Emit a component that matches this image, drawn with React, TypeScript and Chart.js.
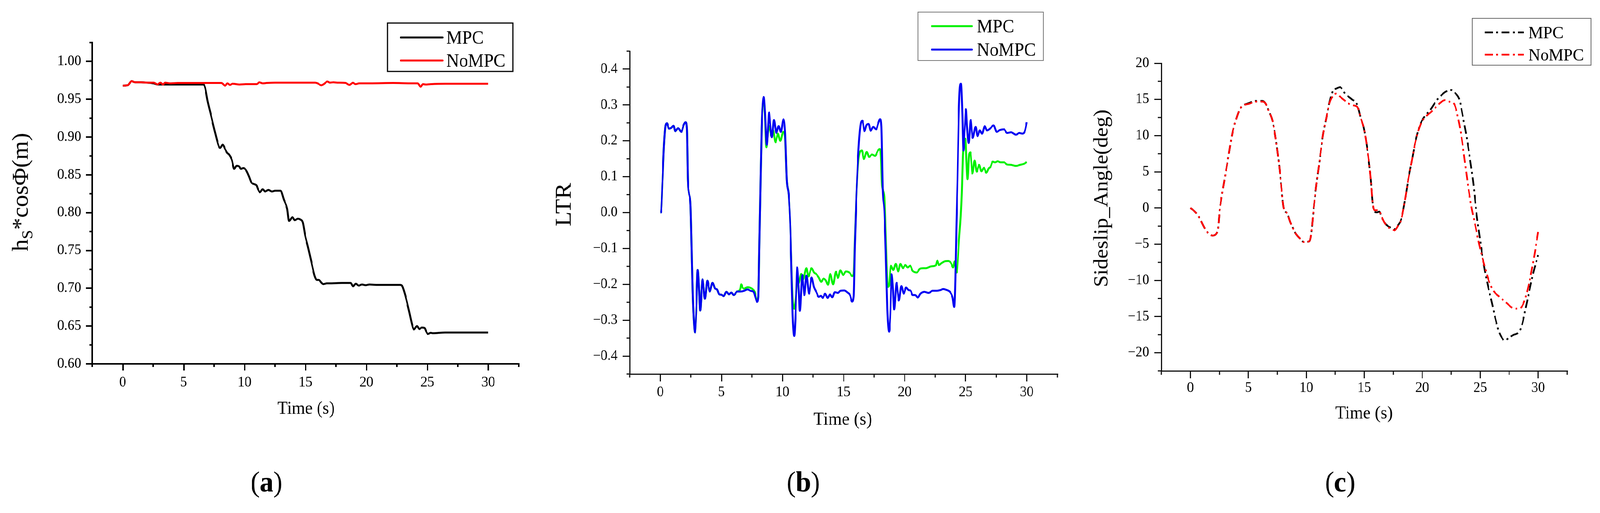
import React, { useEffect, useRef, useState } from 'react';
import { Chart, registerables } from 'chart.js';

Chart.register(...registerables);

const FONT = "'Liberation Serif', 'Times New Roman', Times, serif";

type Pair = [number, number];

// ---------------- shared x axis ----------------
const X_TICKS = [0, 5, 10, 15, 20, 25, 30];
const X_MINOR = [-2.5, 2.5, 7.5, 12.5, 17.5, 22.5, 27.5, 32.5];

// ---------------- panel (a) ----------------
const A_Y_TICKS = [0.6, 0.65, 0.7, 0.75, 0.8, 0.85, 0.9, 0.95, 1.0];
const A_Y_MINOR = [0.625, 0.675, 0.725, 0.775, 0.825, 0.875, 0.925, 0.975, 1.025];

const A_MPC: Pair[] = [
  [0, 0.968], [0.4, 0.9685], [0.73, 0.974], [1.0, 0.9725], [1.5, 0.9725], [2.0, 0.972], [2.55, 0.971],
  [2.85, 0.9695], [3.2, 0.9695], [4.5, 0.9695], [6.6, 0.9695], [6.75, 0.966], [6.97, 0.9474], [7.27, 0.927],
  [7.58, 0.906], [7.88, 0.888], [8.0, 0.8856], [8.2, 0.89], [8.4, 0.884], [8.58, 0.879], [8.72, 0.877],
  [8.95, 0.87], [9.15, 0.858], [9.34, 0.862], [9.57, 0.861], [9.7, 0.858], [9.9, 0.859], [10.13, 0.856],
  [10.36, 0.848], [10.55, 0.84], [10.75, 0.838], [10.98, 0.836], [11.1, 0.831], [11.26, 0.827], [11.48, 0.831],
  [11.68, 0.828], [11.96, 0.83], [12.24, 0.828], [12.52, 0.829], [12.95, 0.829], [13.23, 0.817], [13.5, 0.805],
  [13.65, 0.789], [13.93, 0.794], [14.13, 0.79], [14.36, 0.792], [14.58, 0.791], [14.78, 0.787], [14.97, 0.77],
  [15.2, 0.755], [15.48, 0.735], [15.76, 0.716], [15.93, 0.711], [16.1, 0.711], [16.33, 0.707], [16.47, 0.7055],
  [16.75, 0.7065], [17.03, 0.7065], [18.0, 0.707], [18.7, 0.707], [18.9, 0.7025], [19.14, 0.706], [19.36, 0.7035],
  [19.64, 0.705], [19.93, 0.704], [20.26, 0.705], [20.8, 0.7045], [22.8, 0.7045], [22.94, 0.703], [23.2, 0.69],
  [23.5, 0.67], [23.78, 0.65], [23.9, 0.6455], [24.15, 0.65], [24.35, 0.646], [24.54, 0.648], [24.77, 0.6475],
  [24.9, 0.643], [25.05, 0.6395], [25.27, 0.641], [25.47, 0.6405], [26.45, 0.6415], [30, 0.6415],
];

const A_NOMPC: Pair[] = [
  [0, 0.968], [0.4, 0.9685], [0.73, 0.974], [1.0, 0.9725], [1.5, 0.9725], [2.0, 0.972], [2.55, 0.972],
  [2.85, 0.9695], [3.1, 0.972], [3.3, 0.9695], [3.45, 0.972], [3.95, 0.971], [4.5, 0.9715], [6.7, 0.9715],
  [8.1, 0.9715], [8.4, 0.968], [8.6, 0.971], [8.8, 0.969], [9.0, 0.9705], [9.6, 0.9695], [10.1, 0.97],
  [11.0, 0.97], [11.2, 0.9725], [11.5, 0.971], [11.8, 0.9715], [12.5, 0.972], [13.8, 0.972], [15.8, 0.972],
  [16.0, 0.971], [16.3, 0.9685], [16.5, 0.97], [16.8, 0.9735], [17.0, 0.972], [17.3, 0.9725], [17.6, 0.972],
  [18.3, 0.9715], [18.6, 0.969], [18.9, 0.972], [19.1, 0.97], [19.4, 0.971], [20.3, 0.971], [22.2, 0.9715],
  [23.6, 0.971], [24.2, 0.971], [24.45, 0.9665], [24.65, 0.97], [24.85, 0.9695], [25.3, 0.97], [26.5, 0.9705],
  [30, 0.9705],
];

// ---------------- panel (b) ----------------
const B_Y_TICKS = [-0.4, -0.3, -0.2, -0.1, 0, 0.1, 0.2, 0.3, 0.4];
const B_Y_MINOR = [-0.45, -0.35, -0.25, -0.15, -0.05, 0.05, 0.15, 0.25, 0.35, 0.45];

const B_NOMPC: Pair[] = [
  [0, 0], [0.06, 0.002], [0.17, 0.083], [0.3, 0.187], [0.43, 0.243], [0.54, 0.249], [0.7, 0.234], [0.89, 0.236],
  [1.07, 0.242], [1.22, 0.227], [1.46, 0.235], [1.72, 0.225], [1.9, 0.243], [2.06, 0.252], [2.17, 0.234],
  [2.25, 0.092], [2.34, 0.055], [2.47, 0.022], [2.56, -0.096], [2.64, -0.214], [2.73, -0.294], [2.84, -0.334],
  [2.93, -0.285], [3.06, -0.16], [3.17, -0.214], [3.26, -0.273], [3.45, -0.186], [3.65, -0.24], [3.85, -0.19],
  [4.04, -0.22], [4.27, -0.196], [4.48, -0.212], [4.64, -0.214], [4.83, -0.228], [5.0, -0.229], [5.19, -0.233],
  [5.4, -0.221], [5.62, -0.228], [5.82, -0.223], [6.01, -0.23], [6.28, -0.22], [6.54, -0.22], [6.87, -0.218],
  [7.13, -0.214], [7.39, -0.218], [7.63, -0.221], [7.79, -0.237], [7.92, -0.249], [8.02, -0.237], [8.1, -0.096],
  [8.18, 0.045], [8.29, 0.234], [8.38, 0.305], [8.47, 0.322], [8.57, 0.281], [8.71, 0.189], [8.81, 0.234],
  [8.9, 0.279], [9.03, 0.234], [9.13, 0.21], [9.3, 0.258], [9.49, 0.222], [9.69, 0.241], [9.86, 0.225],
  [10.08, 0.26], [10.22, 0.22], [10.35, 0.092], [10.52, 0.045], [10.65, -0.049], [10.74, -0.167], [10.83, -0.285],
  [10.96, -0.344], [11.07, -0.285], [11.2, -0.153], [11.33, -0.214], [11.42, -0.274], [11.62, -0.174],
  [11.79, -0.23], [11.96, -0.176], [12.18, -0.226], [12.38, -0.181], [12.57, -0.207], [12.78, -0.222],
  [12.97, -0.235], [13.14, -0.232], [13.3, -0.238], [13.49, -0.226], [13.69, -0.238], [13.89, -0.228],
  [14.08, -0.236], [14.28, -0.222], [14.54, -0.224], [14.74, -0.218], [15.07, -0.217], [15.33, -0.223],
  [15.53, -0.23], [15.7, -0.248], [15.83, -0.232], [15.92, -0.096], [16.05, 0.045], [16.25, 0.19], [16.45, 0.253],
  [16.55, 0.256], [16.71, 0.227], [16.87, 0.243], [17.04, 0.247], [17.22, 0.228], [17.43, 0.239], [17.67, 0.232],
  [17.83, 0.248], [17.99, 0.26], [18.09, 0.24], [18.2, 0.066], [18.34, 0.004], [18.45, -0.105], [18.58, -0.268],
  [18.73, -0.332], [18.83, -0.285], [18.93, -0.172], [19.05, -0.214], [19.14, -0.27], [19.34, -0.196],
  [19.53, -0.245], [19.73, -0.205], [19.93, -0.226], [20.12, -0.209], [20.32, -0.216], [20.5, -0.218],
  [20.65, -0.23], [20.85, -0.23], [21.08, -0.237], [21.3, -0.226], [21.63, -0.221], [21.96, -0.224],
  [22.29, -0.218], [22.62, -0.218], [22.95, -0.216], [23.14, -0.213], [23.47, -0.216], [23.73, -0.222],
  [23.93, -0.237], [24.06, -0.263], [24.15, -0.19], [24.23, -0.049], [24.33, 0.092], [24.42, 0.257],
  [24.52, 0.347], [24.61, 0.359], [24.72, 0.281], [24.81, 0.173], [24.92, 0.234], [25.02, 0.288], [25.11, 0.239],
  [25.24, 0.194], [25.41, 0.258], [25.57, 0.208], [25.81, 0.239], [25.97, 0.213], [26.16, 0.229], [26.33, 0.22],
  [26.56, 0.241], [26.75, 0.229], [27.02, 0.235], [27.28, 0.243], [27.54, 0.225], [27.8, 0.23], [28.13, 0.232],
  [28.39, 0.222], [28.72, 0.224], [29.12, 0.217], [29.38, 0.222], [29.64, 0.22], [29.84, 0.227], [30, 0.252],
];

const B_MPC: Pair[] = [
  [0, 0], [0.06, 0.002], [0.17, 0.083], [0.3, 0.187], [0.43, 0.243], [0.54, 0.249], [0.7, 0.234], [0.89, 0.236],
  [1.07, 0.242], [1.22, 0.227], [1.46, 0.235], [1.72, 0.225], [1.9, 0.243], [2.06, 0.252], [2.17, 0.234],
  [2.25, 0.092], [2.34, 0.055], [2.47, 0.022], [2.56, -0.096], [2.64, -0.214], [2.73, -0.294], [2.84, -0.334],
  [2.93, -0.285], [3.06, -0.16], [3.17, -0.214], [3.26, -0.273], [3.45, -0.186], [3.65, -0.24], [3.85, -0.19],
  [4.04, -0.22], [4.27, -0.196], [4.48, -0.212], [4.64, -0.214], [4.83, -0.228], [5.0, -0.229], [5.19, -0.233],
  [5.4, -0.221], [5.62, -0.228], [5.82, -0.223], [6.01, -0.23], [6.28, -0.22], [6.45, -0.218], [6.55, -0.212],
  [6.62, -0.2], [6.75, -0.21], [6.87, -0.212], [7.13, -0.208], [7.5, -0.212], [7.72, -0.221], [7.89, -0.242],
  [8.02, -0.235], [8.1, -0.096], [8.18, 0.045], [8.29, 0.23], [8.38, 0.3], [8.47, 0.315], [8.57, 0.27],
  [8.68, 0.182], [8.78, 0.215], [8.9, 0.241], [9.1, 0.213], [9.22, 0.23], [9.43, 0.196], [9.62, 0.22],
  [9.82, 0.2], [10.05, 0.225], [10.2, 0.215], [10.35, 0.092], [10.52, 0.045], [10.65, -0.049], [10.74, -0.16],
  [10.83, -0.24], [10.96, -0.268], [11.08, -0.24], [11.2, -0.2], [11.33, -0.197], [11.53, -0.171], [11.7, -0.186],
  [11.96, -0.155], [12.12, -0.178], [12.38, -0.155], [12.58, -0.167], [12.78, -0.172], [12.97, -0.181],
  [13.17, -0.193], [13.36, -0.184], [13.56, -0.19], [13.72, -0.201], [13.91, -0.171], [14.15, -0.2],
  [14.37, -0.165], [14.54, -0.182], [14.74, -0.161], [14.97, -0.174], [15.2, -0.164], [15.5, -0.168],
  [15.71, -0.177], [15.83, -0.17], [15.92, -0.08], [16.05, 0.045], [16.2, 0.14], [16.36, 0.17], [16.5, 0.173],
  [16.66, 0.149], [16.9, 0.169], [17.09, 0.155], [17.33, 0.162], [17.58, 0.158], [17.8, 0.172], [17.96, 0.177],
  [18.05, 0.16], [18.15, 0.074], [18.35, 0.045], [18.45, -0.06], [18.55, -0.17], [18.63, -0.207], [18.72, -0.204],
  [18.88, -0.148], [19.07, -0.16], [19.27, -0.143], [19.47, -0.164], [19.66, -0.143], [19.86, -0.155],
  [20.06, -0.146], [20.25, -0.153], [20.45, -0.148], [20.65, -0.162], [21.0, -0.167], [21.24, -0.157],
  [21.5, -0.155], [21.76, -0.155], [22.16, -0.15], [22.55, -0.147], [22.68, -0.134], [22.81, -0.146],
  [23.01, -0.141], [23.27, -0.136], [23.58, -0.135], [23.8, -0.141], [23.97, -0.153], [24.1, -0.136],
  [24.26, -0.167], [24.46, -0.072], [24.59, -0.011], [24.68, 0.055], [24.78, 0.168], [24.92, 0.196],
  [24.98, 0.206], [25.07, 0.14], [25.15, 0.093], [25.28, 0.163], [25.38, 0.168], [25.55, 0.109], [25.73, 0.145],
  [25.9, 0.114], [26.1, 0.133], [26.29, 0.115], [26.49, 0.125], [26.69, 0.111], [26.88, 0.123], [27.04, 0.128],
  [27.21, 0.142], [27.41, 0.14], [27.61, 0.143], [27.87, 0.14], [28.13, 0.14], [28.39, 0.134], [28.72, 0.133],
  [29.12, 0.13], [29.45, 0.133], [29.77, 0.136], [30, 0.141],
];

// ---------------- panel (c) ----------------
const C_Y_TICKS = [-20, -15, -10, -5, 0, 5, 10, 15, 20];
const C_Y_MINOR = [-22.5, -17.5, -12.5, -7.5, -2.5, 2.5, 7.5, 12.5, 17.5];

const C_NOMPC: Pair[] = [
  [0, 0], [0.45, -0.6], [0.83, -1.5], [1.27, -2.9], [1.71, -3.7], [1.9, -3.8], [2.35, -3.2], [2.52, -0.4],
  [2.79, 2.5], [2.95, 4.0], [3.11, 5.5], [3.32, 7.5], [3.48, 9.1], [3.64, 10.5], [3.9, 12.0], [4.22, 13.5],
  [4.49, 14.1], [5.07, 14.4], [5.6, 14.7], [6.24, 14.7], [6.45, 14.5], [6.77, 13.4], [7.09, 12.0], [7.3, 10.2],
  [7.51, 7.8], [7.73, 4.8], [7.89, 2.1], [8.05, 0], [8.37, -0.8], [8.63, -2], [9.08, -3.5], [9.5, -4.3],
  [9.8, -4.7], [10.26, -4.6], [10.4, -3.8], [10.64, 0], [10.85, 3], [11.14, 6.5], [11.43, 10], [11.73, 12.5],
  [12.0, 14.5], [12.3, 15.5], [12.6, 15.8], [12.9, 15.4], [13.35, 14.8], [13.94, 14.2], [14.38, 14],
  [14.68, 12.5], [14.97, 11], [15.27, 8], [15.56, 4], [15.7, 1], [15.86, -0.3], [16.24, -0.3], [16.45, -1],
  [16.74, -2], [17.03, -2.6], [17.48, -3.0], [17.62, -3.1], [17.9, -2.5], [18.2, -1.5], [18.5, 1], [18.8, 4],
  [19.1, 6.5], [19.39, 9], [19.84, 11.5], [20.28, 12.6], [20.72, 13.2], [21.16, 13.9], [21.6, 14.6],
  [21.96, 14.9], [22.34, 14.7], [22.78, 14.3], [23.08, 12.5], [23.37, 10], [23.67, 6.5], [23.96, 3], [24.26, 0],
  [24.55, -2.2], [24.84, -4.5], [25.13, -6.5], [25.43, -8.3], [25.73, -10], [26.17, -11.5], [26.61, -12.2],
  [27.2, -13], [27.79, -13.8], [28.24, -13.9], [28.6, -13.6], [28.9, -12.4], [29.27, -10], [29.62, -7],
  [30, -3.3],
];

const C_MPC: Pair[] = [
  [0, 0], [0.45, -0.6], [0.83, -1.5], [1.27, -2.9], [1.71, -3.7], [1.9, -3.8], [2.35, -3.2], [2.52, -0.4],
  [2.79, 2.5], [2.95, 4.0], [3.11, 5.5], [3.32, 7.5], [3.48, 9.1], [3.64, 10.5], [3.9, 12.0], [4.22, 13.5],
  [4.49, 14.1], [5.07, 14.5], [5.6, 14.8], [6.24, 14.8], [6.45, 14.5], [6.77, 13.4], [7.09, 12.0], [7.3, 10.2],
  [7.51, 7.8], [7.73, 4.8], [7.89, 2.1], [8.05, 0], [8.37, -0.8], [8.63, -2], [9.08, -3.5], [9.5, -4.3],
  [9.8, -4.7], [10.26, -4.6], [10.4, -3.8], [10.64, 0], [10.85, 3], [11.14, 6.5], [11.43, 10], [11.73, 12.5],
  [12.0, 14.6], [12.3, 16.2], [12.6, 16.5], [12.9, 16.7], [13.35, 15.8], [13.94, 15.0], [14.38, 14.3],
  [14.68, 12.5], [14.97, 11], [15.27, 8], [15.56, 4], [15.7, 1], [15.86, -0.5], [16.1, -0.6], [16.3, -0.5],
  [16.45, -1.1], [16.74, -2], [17.03, -2.5], [17.48, -2.8], [17.62, -2.9], [17.9, -2.4], [18.2, -1.5],
  [18.5, 1], [18.8, 4], [19.1, 6.5], [19.39, 9], [19.84, 11.6], [20.28, 12.8], [20.72, 13.6], [21.16, 14.7],
  [21.6, 15.5], [22.05, 16.1], [22.5, 16.3], [22.84, 15.9], [23.22, 14.9], [23.52, 12.5], [23.81, 10],
  [24.1, 7], [24.4, 3.5], [24.7, -1], [25.0, -4.5], [25.15, -6.2], [25.4, -8.6], [25.7, -11], [26.0, -13],
  [26.3, -15.2], [26.6, -17], [26.9, -18], [27.1, -18.3], [27.5, -17.9], [27.9, -17.5], [28.3, -17.2],
  [28.6, -16.2], [28.9, -14], [29.3, -11], [29.6, -8.8], [30, -6.5],
];

// ---------------- rendering ----------------
const PAGE_W = 4334;
const PAGE_H = 1314;
const X_AXIS_H = 100;

interface TextPart { text: string; size: number; bold?: boolean; dy?: number }
interface TextItem { parts: TextPart[]; x: number; y: number; rotate?: boolean; baseline?: CanvasTextBaseline }
interface LegendRow { label: string; color: string; y: number }
interface LegendDef {
  x: number; y: number; w: number; h: number; border: string; borderW: number;
  lineX1: number; lineX2: number; textX: number; size: number; lineW: number; dash?: number[];
  rows: LegendRow[];
}
interface SeriesDef { label: string; data: Pair[]; color: string; width: number; dash?: number[]; order: number }
interface PanelDef {
  key: string; left: number; width: number;
  area: { l: number; t: number; r: number; b: number };
  yMin: number; yMax: number; yTicks: number[]; yMinor: number[]; yFmt: (v: number) => string;
  axisW: number; axisColor: string; tickLen: number; minorLen: number; tickSize: number;
  xPad: number; yPad: number;
  series: SeriesDef[]; texts: TextItem[]; legend: LegendDef;
}

const minus = (s: string) => s.replace('-', '\u2212');

function drawText(ctx: CanvasRenderingContext2D, t: TextItem) {
  ctx.save();
  ctx.translate(t.x, t.y);
  if (t.rotate) ctx.rotate(-Math.PI / 2);
  ctx.textAlign = 'left';
  ctx.textBaseline = t.baseline || 'middle';
  ctx.fillStyle = '#000';
  const fonts = t.parts.map((p) => `${p.bold ? 'bold ' : ''}${p.size}px ${FONT}`);
  const widths = t.parts.map((p, i) => {
    ctx.font = fonts[i];
    return ctx.measureText(p.text).width;
  });
  const total = widths.reduce((a, b) => a + b, 0);
  let x = -total / 2;
  t.parts.forEach((p, i) => {
    ctx.font = fonts[i];
    ctx.fillText(p.text, x, p.dy || 0);
    x += widths[i];
  });
  ctx.restore();
}

function decoPlugin(p: PanelDef) {
  return {
    id: 'deco_' + p.key,
    afterDraw(chart: any) {
      const ctx: CanvasRenderingContext2D = chart.ctx;
      const xs = chart.scales.x;
      const ys = chart.scales.y;
      const area = chart.chartArea;
      ctx.save();
      ctx.strokeStyle = p.axisColor;
      ctx.lineWidth = p.axisW;
      ctx.lineCap = 'butt';
      ctx.beginPath();
      p.yMinor.forEach((v) => {
        const y = ys.getPixelForValue(v);
        ctx.moveTo(area.left - p.minorLen, y);
        ctx.lineTo(area.left, y);
      });
      X_MINOR.forEach((v) => {
        const x = xs.getPixelForValue(v);
        ctx.moveTo(x, area.bottom);
        ctx.lineTo(x, area.bottom + p.minorLen);
      });
      ctx.stroke();
      p.texts.forEach((t) => drawText(ctx, t));
      const L = p.legend;
      ctx.fillStyle = '#fff';
      ctx.fillRect(L.x, L.y, L.w, L.h);
      ctx.strokeStyle = L.border;
      ctx.lineWidth = L.borderW;
      ctx.setLineDash([]);
      ctx.strokeRect(L.x, L.y, L.w, L.h);
      L.rows.forEach((r) => {
        ctx.save();
        ctx.strokeStyle = r.color;
        ctx.lineWidth = L.lineW;
        ctx.lineCap = L.dash ? 'butt' : 'round';
        ctx.setLineDash(L.dash || []);
        ctx.beginPath();
        ctx.moveTo(L.lineX1, r.y);
        ctx.lineTo(L.lineX2, r.y);
        ctx.stroke();
        ctx.restore();
        ctx.fillStyle = '#000';
        ctx.font = `${L.size}px ${FONT}`;
        ctx.textAlign = 'left';
        ctx.textBaseline = 'alphabetic';
        ctx.fillText(r.label, L.textX, r.y + L.size * 0.33);
      });
      ctx.restore();
    },
  };
}

function zeroPad(sc: any) {
  sc.paddingLeft = 0;
  sc.paddingRight = 0;
  sc.paddingTop = 0;
  sc.paddingBottom = 0;
}

function makeConfig(p: PanelDef): any {
  const a = p.area;
  const gridOpts = {
    display: true,
    drawOnChartArea: false,
    drawTicks: true,
    tickLength: p.tickLen,
    tickWidth: p.axisW,
    tickColor: p.axisColor,
    lineWidth: p.axisW,
    color: p.axisColor,
  };
  return {
    type: 'line',
    data: {
      datasets: p.series.map((s) => ({
        label: s.label,
        data: s.data.map(([x, y]) => ({ x, y })),
        borderColor: s.color,
        backgroundColor: s.color,
        borderWidth: s.width,
        borderDash: s.dash || [],
        borderCapStyle: 'butt',
        borderJoinStyle: 'round',
        pointRadius: 0,
        pointHoverRadius: 0,
        fill: false,
        cubicInterpolationMode: 'monotone',
        order: s.order,
      })),
    },
    options: {
      responsive: false,
      animation: false,
      devicePixelRatio: 1,
      events: [],
      layout: {
        padding: { left: 0, top: a.t, right: p.width - a.r, bottom: PAGE_H - a.b - X_AXIS_H },
      },
      plugins: { legend: { display: false }, tooltip: { enabled: false }, title: { display: false } },
      scales: {
        x: {
          type: 'linear',
          position: 'bottom',
          min: -2.5,
          max: 32.5,
          afterBuildTicks: (sc: any) => {
            sc.ticks = X_TICKS.map((v) => ({ value: v }));
          },
          afterFit: (sc: any) => {
            sc.height = X_AXIS_H;
            zeroPad(sc);
          },
          grid: gridOpts,
          border: { display: true, width: p.axisW, color: p.axisColor },
          ticks: {
            font: { family: FONT, size: p.tickSize },
            color: '#000',
            padding: p.xPad,
            maxRotation: 0,
            autoSkip: false,
            callback: (v: number) => String(v),
          },
        },
        y: {
          type: 'linear',
          position: 'left',
          min: p.yMin,
          max: p.yMax,
          afterBuildTicks: (sc: any) => {
            sc.ticks = p.yTicks.map((v) => ({ value: v }));
          },
          afterFit: (sc: any) => {
            sc.width = a.l;
            zeroPad(sc);
          },
          grid: gridOpts,
          border: { display: true, width: p.axisW, color: p.axisColor },
          ticks: {
            font: { family: FONT, size: p.tickSize },
            color: '#000',
            padding: p.yPad,
            autoSkip: false,
            callback: (v: number) => p.yFmt(v),
          },
        },
      },
    },
    plugins: [decoPlugin(p)],
  };
}

const PANEL_A: PanelDef = {
  key: 'a', left: 0, width: 1445,
  area: { l: 250, t: 109, r: 1405, b: 932 },
  yMin: 0.6, yMax: 1.025, yTicks: A_Y_TICKS, yMinor: A_Y_MINOR,
  yFmt: (v) => v.toFixed(2),
  axisW: 4, axisColor: '#000', tickLen: 17, minorLen: 8, tickSize: 37, xPad: 9, yPad: 13,
  series: [
    { label: 'MPC', data: A_MPC, color: '#000000', width: 5, order: 1 },
    { label: 'NoMPC', data: A_NOMPC, color: '#ff0000', width: 5, order: 0 },
  ],
  texts: [
    {
      parts: [{ text: 'h', size: 62 }, { text: 'S', size: 43, dy: 13 }, { text: '*cos\u03A6(m)', size: 62 }],
      x: 75, y: 492, rotate: true, baseline: 'alphabetic',
    },
    { parts: [{ text: 'Time (s)', size: 46 }], x: 829, y: 1048 },
    { parts: [{ text: '(', size: 74 }, { text: 'a', size: 74, bold: true }, { text: ')', size: 74 }], x: 722, y: 1240 },
  ],
  legend: {
    x: 1050, y: 59, w: 339, h: 124, border: '#000', borderW: 3,
    lineX1: 1086, lineX2: 1199, textX: 1209, size: 48, lineW: 5,
    rows: [
      { label: 'MPC', color: '#000000', y: 96 },
      { label: 'NoMPC', color: '#ff0000', y: 155 },
    ],
  },
};

const PANEL_B: PanelDef = {
  key: 'b', left: 1445, width: 1445,
  area: { l: 261, t: 131, r: 1419, b: 958 },
  yMin: -0.45, yMax: 0.45, yTicks: B_Y_TICKS, yMinor: B_Y_MINOR,
  yFmt: (v) => minus((Math.abs(v) < 1e-9 ? 0 : v).toFixed(1)),
  axisW: 3, axisColor: '#111', tickLen: 19, minorLen: 9, tickSize: 37, xPad: 6, yPad: 14,
  series: [
    { label: 'MPC', data: B_MPC, color: '#00f000', width: 5, order: 1 },
    { label: 'NoMPC', data: B_NOMPC, color: '#0000f2', width: 5, order: 0 },
  ],
  texts: [
    { parts: [{ text: 'LTR', size: 62 }], x: 85, y: 524, rotate: true },
    { parts: [{ text: 'Time (s)', size: 47 }], x: 838, y: 1076 },
    { parts: [{ text: '(', size: 74 }, { text: 'b', size: 74, bold: true }, { text: ')', size: 74 }], x: 731, y: 1240 },
  ],
  legend: {
    x: 1042, y: 31, w: 339, h: 124, border: '#777', borderW: 2,
    lineX1: 1079, lineX2: 1188, textX: 1201, size: 48, lineW: 5,
    rows: [
      { label: 'MPC', color: '#00f000', y: 67 },
      { label: 'NoMPC', color: '#0000f2', y: 127 },
    ],
  },
};

const C_DASH = [22, 9, 5, 9];

const PANEL_C: PanelDef = {
  key: 'c', left: 2890, width: 1444,
  area: { l: 256, t: 162, r: 1355, b: 950 },
  yMin: -22.5, yMax: 20, yTicks: C_Y_TICKS, yMinor: C_Y_MINOR,
  yFmt: (v) => minus(String(Math.round(v))),
  axisW: 3, axisColor: '#111', tickLen: 19, minorLen: 10, tickSize: 37, xPad: 3, yPad: 14,
  series: [
    { label: 'MPC', data: C_MPC, color: '#000000', width: 4.5, dash: C_DASH, order: 1 },
    { label: 'NoMPC', data: C_NOMPC, color: '#ff0000', width: 4.5, dash: C_DASH, order: 0 },
  ],
  texts: [
    { parts: [{ text: 'Sideslip_Angle(deg)', size: 55 }], x: 96, y: 508, rotate: true },
    { parts: [{ text: 'Time (s)', size: 46 }], x: 805, y: 1060 },
    { parts: [{ text: '(', size: 74 }, { text: 'c', size: 74, bold: true }, { text: ')', size: 74 }], x: 740, y: 1240 },
  ],
  legend: {
    x: 1098, y: 47, w: 322, h: 120, border: '#666', borderW: 2,
    lineX1: 1132, lineX2: 1238, textX: 1250, size: 45, lineW: 4.5, dash: C_DASH,
    rows: [
      { label: 'MPC', color: '#000000', y: 83 },
      { label: 'NoMPC', color: '#ff0000', y: 140 },
    ],
  },
};

function PanelChart({ p }: { p: PanelDef }) {
  const ref = useRef<HTMLCanvasElement>(null);
  useEffect(() => {
    if (!ref.current) return;
    const chart = new Chart(ref.current, makeConfig(p));
    return () => chart.destroy();
  }, [p]);
  return (
    <canvas
      ref={ref}
      width={p.width}
      height={PAGE_H}
      style={{ position: 'absolute', left: p.left, top: 0, width: p.width, height: PAGE_H, display: 'block' }}
    />
  );
}

function viewportSize() {
  const de = typeof document !== 'undefined' ? document.documentElement : null;
  const w = (de && de.clientWidth) || (typeof window !== 'undefined' ? window.innerWidth : PAGE_W) || PAGE_W;
  const h = (de && de.clientHeight) || (typeof window !== 'undefined' ? window.innerHeight : PAGE_H) || PAGE_H;
  return { w, h };
}

export default function App() {
  const [view, setView] = useState(viewportSize);
  useEffect(() => {
    document.body.style.margin = '0';
    document.body.style.background = '#fff';
    document.documentElement.style.overflow = 'hidden';
    setView(viewportSize());
  }, []);
  // The sandbox window may be narrower than the 4334x1314 design; fit the design to the viewport.
  const sx = view.w / PAGE_W;
  const sy = view.h / PAGE_H;
  return (
    <div
      style={{
        position: 'absolute', left: 0, top: 0, width: PAGE_W, height: PAGE_H, overflow: 'hidden',
        background: '#fff', transformOrigin: '0 0', transform: `scale(${sx}, ${sy})`,
      }}
    >
      <PanelChart p={PANEL_A} />
      <PanelChart p={PANEL_B} />
      <PanelChart p={PANEL_C} />
    </div>
  );
}
